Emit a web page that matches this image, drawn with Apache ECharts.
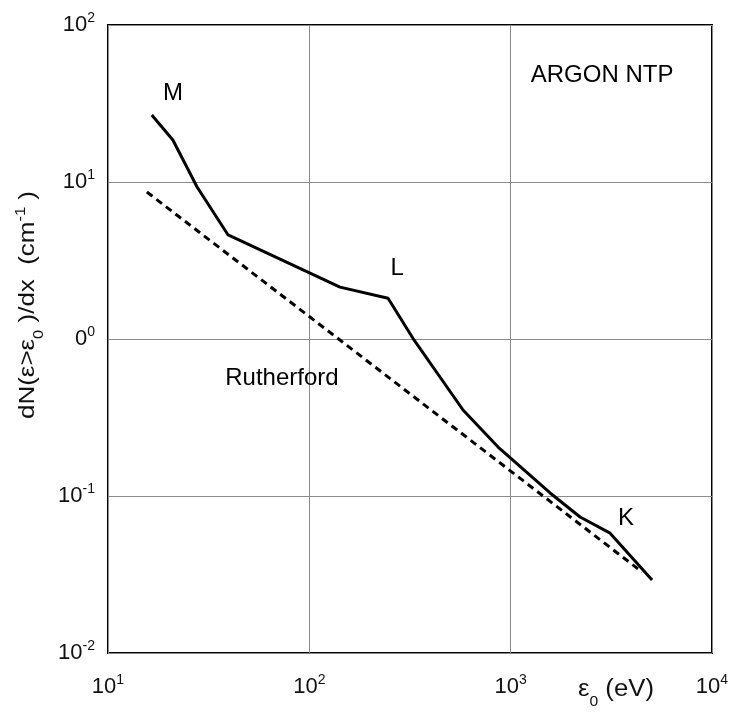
<!DOCTYPE html>
<html><head><meta charset="utf-8">
<script src="https://cdn.jsdelivr.net/npm/echarts@6/dist/echarts.min.js"></script>
<style>html,body{margin:0;padding:0;background:#fff}#c{width:733px;height:717px}</style>
</head><body><div id="c"></div>
<script>
// Solid curve (energy eV, dN/dx cm^-1)
const solidX = [16.5, 21.0, 27.7, 39.5, 100.8, 142, 246, 327, 580, 866, 1570, 2212, 3118, 5040];
const solidY = [26.7, 18.5, 9.3, 4.6, 2.63, 2.14, 1.82, 1.01, 0.353, 0.205, 0.1045, 0.0735, 0.058, 0.0292];
// Rutherford (dashed)
const rutherX = [15.6, 100, 4497];
const rutherY = [8.63, 1.39, 0.0328];
// Annotations
const noteText = ['M', 'L', 'K', 'Rutherford', 'ARGON NTP'];
const noteX = [21, 273, 3742, 73.1, 2845];
const noteY = [36.9, 2.83, 0.0724, 0.565, 48];
// Tick exponents
const xExp = [1, 2, 3, 4];
const yExp = [-2, -1, 0, 1, 2];

const FONT = 'Liberation Sans, Arial, sans-serif';
const pair = (xs, ys) => xs.map((x, i) => [x, ys[i]]);
const supRich = {
  b: {fontSize: 22, color: '#111', fontFamily: FONT},
  s: {fontSize: 14, color: '#111', fontFamily: FONT, padding: [0, 0, 13, 0]}
};
function expLabel(v) {
  const e = Math.round(Math.log10(v));
  if (e === 0) return '{b|0}{s|0}';
  return '{b|10}{s|' + e + '}';
}

const chart = echarts.init(document.getElementById('c'));
chart.setOption({
  backgroundColor: '#fff',
  animation: false,
  grid: {left: 108, top: 25, width: 604, height: 628, show: true, borderColor: '#000', borderWidth: 2, backgroundColor: 'transparent'},
  xAxis: {
    type: 'log', logBase: 10, min: 10, max: 10000,
    axisLine: {show: false}, axisTick: {show: false},
    splitLine: {show: true, lineStyle: {color: '#8a8a8a', width: 1}},
    minorSplitLine: {show: false},
    axisLabel: {formatter: expLabel, rich: supRich, margin: 20}
  },
  yAxis: {
    type: 'log', logBase: 10, min: 0.01, max: 100,
    axisLine: {show: false}, axisTick: {show: false},
    splitLine: {show: true, lineStyle: {color: '#8a8a8a', width: 1}},
    axisLabel: {formatter: expLabel, rich: supRich, margin: 13}
  },
  graphic: [
    {
      type: 'text', x: 28, y: 305, rotation: Math.PI / 2, scaleX: 1.18,
      style: {
        text: '{t|dN(ε>ε}{sub|0}{t| )/dx  (cm}{sup|-1}{t| )}',
        align: 'center', verticalAlign: 'middle',
        rich: {
          t: {fontSize: 22, fill: '#111', fontFamily: FONT},
          sub: {fontSize: 14, fill: '#111', fontFamily: FONT, padding: [22, 0, 0, 0]},
          sup: {fontSize: 14, fill: '#111', fontFamily: FONT, padding: [0, 0, 14, 0]}
        }
      }
    },
    {
      type: 'text', x: 616, y: 690, scaleX: 1.12,
      style: {
        text: '{t|ε}{sub|0}{t| (eV)}',
        align: 'center', verticalAlign: 'middle',
        rich: {
          t: {fontSize: 23, fill: '#111', fontFamily: FONT},
          sub: {fontSize: 14, fill: '#111', fontFamily: FONT, padding: [24, 0, 0, 0]}
        }
      }
    }
  ],
  series: [
    {
      type: 'line', data: pair(rutherX, rutherY), symbol: 'none',
      lineStyle: {color: '#000', width: 3, type: [7, 5]}, z: 3
    },
    {
      type: 'line', data: pair(solidX, solidY), symbol: 'none',
      lineStyle: {color: '#000', width: 3}, z: 4
    },
    {
      type: 'scatter', symbolSize: 0, silent: true,
      itemStyle: {opacity: 1},
      data: noteText.map((t, i) => ({value: [noteX[i], noteY[i]], name: t})),
      label: {
        show: true, position: 'inside', formatter: p => p.name,
        fontSize: 24, color: '#000', fontFamily: FONT
      },
      z: 5
    }
  ]
});
</script></body></html>
